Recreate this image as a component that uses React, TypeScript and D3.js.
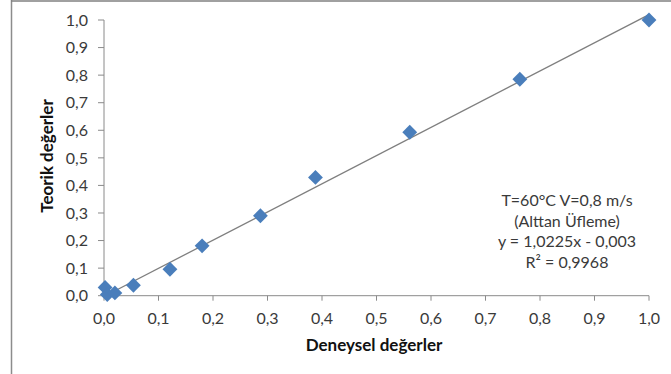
import React from "react";
import * as d3 from "d3";

const expX = [0.002, 0.006, 0.02, 0.054, 0.121, 0.18, 0.287, 0.388, 0.561, 0.763, 1.0];
const theoY = [0.03, 0.004, 0.01, 0.038, 0.096, 0.181, 0.29, 0.429, 0.593, 0.785, 1.0];
const tickValues = [0, 0.1, 0.2, 0.3, 0.4, 0.5, 0.6, 0.7, 0.8, 0.9, 1.0];
const slope = 1.0225;
const intercept = -0.003;
const annotation = ["T=60°C V=0,8 m/s", "(Alttan Üfleme)", "y = 1,0225x - 0,003", "R² = 0,9968"];
const xTitle = "Deneysel değerler";
const yTitle = "Teorik değerler";

const W = 671;
const H = 374;
const FONT = "Lato, 'Open Sans', sans-serif";

export default function App() {
  const x = d3.scaleLinear().domain([0, 1]).range([104, 649]);
  const y = d3.scaleLinear().domain([0, 1]).range([295.7, 20]);
  const fmt = (v: number) => d3.format(".1f")(v).replace(".", ",");
  const diamond = d3.symbol().type(d3.symbolSquare).size(110)();
  const xMax = d3.max(expX) as number;
  const line = d3.line<number>().x((v) => x(v)).y((v) => y(slope * v + intercept));
  const axisColor = "#8a8a8a";
  const textColor = "#3a3a3a";

  return (
    <svg width={W} height={H} style={{ position: "absolute", left: 0, top: 0, background: "#fff" }} fontFamily={FONT}>
      <rect x={0} y={0} width={W} height={H} fill="#fff" />
      {/* chart frame */}
      <line x1={11.5} y1={0} x2={11.5} y2={H} stroke="#8c8c8c" strokeWidth={1.5} />
      <line x1={11} y1={1} x2={W} y2={1} stroke="#808080" strokeWidth={1.5} />

      {/* y axis */}
      <line x1={x(0)} y1={y(0)} x2={x(0)} y2={y(1)} stroke={axisColor} strokeWidth={1} />
      {tickValues.map((t) => (
        <g key={"y" + t}>
          <line x1={x(0) - 6} x2={x(0)} y1={y(t)} y2={y(t)} stroke={axisColor} strokeWidth={1} />
          <text x={88} y={y(t)} dy="0.36em" textAnchor="end" fontSize={16} fill={textColor}>
            {fmt(t)}
          </text>
        </g>
      ))}
      {/* x axis */}
      <line x1={x(0)} y1={y(0)} x2={x(1)} y2={y(0)} stroke={axisColor} strokeWidth={1} />
      {tickValues.map((t) => (
        <g key={"x" + t}>
          <line x1={x(t)} x2={x(t)} y1={y(0)} y2={y(0) + 5} stroke={axisColor} strokeWidth={1} />
          <text x={x(t)} y={324} textAnchor="middle" fontSize={16} fill={textColor}>
            {fmt(t)}
          </text>
        </g>
      ))}

      {/* trend line */}
      <path d={line([0, xMax]) || ""} fill="none" stroke="#7f7f7f" strokeWidth={1.3} />

      {/* points */}
      {expX.map((v, i) => (
        <path
          key={"p" + i}
          d={diamond || ""}
          transform={`translate(${x(v)},${y(theoY[i])}) rotate(45)`}
          fill="#4A7EBB"
        />
      ))}

      {/* titles */}
      <text x={374} y={351} textAnchor="middle" fontSize={17} fontWeight="bold" fill="#111">
        {xTitle}
      </text>
      <text
        transform={`translate(53,156) rotate(-90)`}
        textAnchor="middle"
        fontSize={17}
        fontWeight="bold"
        fill="#111"
      >
        {yTitle}
      </text>

      {/* annotation */}
      {annotation.map((s, i) => (
        <text key={"a" + i} x={567} y={206 + i * 20.5} textAnchor="middle" fontSize={16} fill={textColor}>
          {s}
        </text>
      ))}
    </svg>
  );
}
